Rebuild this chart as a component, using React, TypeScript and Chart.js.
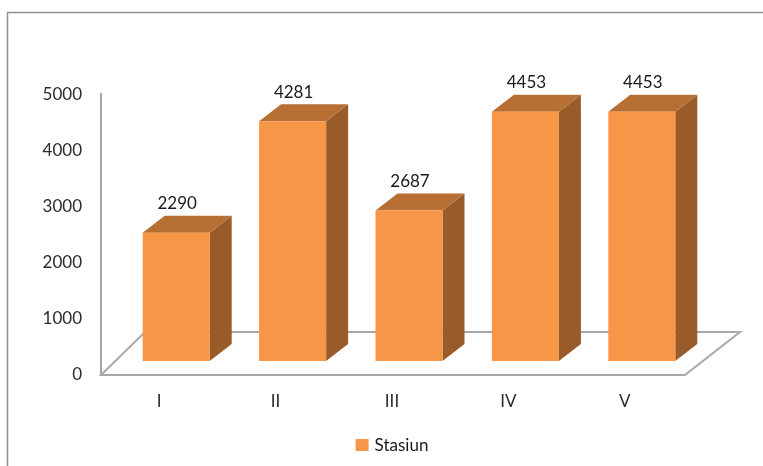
import React, { useEffect, useRef } from "react";
import { Chart, registerables } from "chart.js";

Chart.register(...registerables);

const categories = ["I", "II", "III", "IV", "V"];
const values = [2290, 4281, 2687, 4453, 4453];
const yTicks = [0, 1000, 2000, 3000, 4000, 5000];
const seriesName = "Stasiun";

const FONT = "17px Lato";
const FRONT = "#F79646";
const TOP = "#B86F33";
const SIDE = "#9A5B2A";

const threeD = {
  id: "threeD",
  afterDraw(chart: any) {
    const ctx = chart.ctx;
    const xs = chart.scales.x;
    const ys = chart.scales.y;
    const area = chart.chartArea;
    ctx.save();

    // outer border
    ctx.strokeStyle = "#8f8f8f";
    ctx.lineWidth = 1.5;
    ctx.beginPath();
    ctx.moveTo(7.5, chart.height + 5);
    ctx.lineTo(7.5, 12.5);
    ctx.lineTo(chart.width + 5, 12.5);
    ctx.stroke();

    const y0 = ys.getPixelForValue(0);
    const fdx = 44, fdy = -43;
    // floor
    ctx.fillStyle = "#ffffff";
    ctx.strokeStyle = "#a8a8a8";
    ctx.lineWidth = 2;
    ctx.beginPath();
    ctx.moveTo(area.left, y0);
    ctx.lineTo(area.right + 2, y0);
    ctx.lineTo(area.right + 2 + fdx + 11, y0 + fdy);
    ctx.lineTo(area.left + fdx, y0 + fdy);
    ctx.closePath();
    ctx.fill();
    ctx.stroke();

    // vertical axis
    ctx.beginPath();
    ctx.moveTo(area.left, ys.getPixelForValue(5000) - 2);
    ctx.lineTo(area.left, y0);
    ctx.stroke();

    // y tick labels
    ctx.font = FONT;
    ctx.fillStyle = "#2b2b2b";
    ctx.textAlign = "right";
    ctx.textBaseline = "middle";
    yTicks.forEach((t) => {
      ctx.fillText(String(t), area.left - 19, ys.getPixelForValue(t));
    });

    // x labels
    ctx.textAlign = "center";
    categories.forEach((c, i) => {
      ctx.fillText(c, xs.getPixelForValue(i), y0 + 27);
    });

    // bars
    const bdx = 22, bdy = -17;
    const half = 33.5;
    values.forEach((v, i) => {
      const cx = xs.getPixelForValue(i) + 17;
      const l = cx - half, r = cx + half;
      const base = y0 - 14;
      const top = ys.getPixelForValue(v) - 14;
      // side
      ctx.fillStyle = SIDE;
      ctx.beginPath();
      ctx.moveTo(r, top);
      ctx.lineTo(r + bdx, top + bdy);
      ctx.lineTo(r + bdx, base + bdy);
      ctx.lineTo(r, base);
      ctx.closePath();
      ctx.fill();
      // top
      ctx.fillStyle = TOP;
      ctx.beginPath();
      ctx.moveTo(l, top);
      ctx.lineTo(l + bdx, top + bdy);
      ctx.lineTo(r + bdx, top + bdy);
      ctx.lineTo(r, top);
      ctx.closePath();
      ctx.fill();
      // front
      ctx.fillStyle = FRONT;
      ctx.fillRect(l, top, r - l, base - top);
      // label
      ctx.fillStyle = "#1a1a1a";
      ctx.textAlign = "center";
      ctx.fillText(String(v), cx + 1, top - 29);
    });

    // legend
    const lx = (area.left + area.right) / 2;
    ctx.font = FONT;
    const tw = ctx.measureText(seriesName).width;
    const total = 13 + 6 + tw;
    const sx = lx - total / 2;
    ctx.fillStyle = FRONT;
    ctx.fillRect(sx, 439, 13, 12);
    ctx.fillStyle = "#1a1a1a";
    ctx.textAlign = "left";
    ctx.fillText(seriesName, sx + 19, 445.5);

    ctx.restore();
  },
};

export default function App() {
  const ref = useRef<HTMLCanvasElement>(null);
  useEffect(() => {
    document.body.style.margin = "0";
    const chart = new Chart(ref.current!, {
      type: "bar",
      data: {
        labels: categories,
        datasets: [
          {
            label: seriesName,
            data: values,
            backgroundColor: "rgba(0,0,0,0)",
            borderWidth: 0,
          },
        ],
      },
      options: {
        animation: false,
        responsive: false,
        layout: { padding: { left: 101, right: 80, top: 95, bottom: 91 } },
        plugins: { legend: { display: false }, tooltip: { enabled: false } },
        scales: {
          x: { display: false, offset: true },
          y: { display: false, min: 0, max: 5000 },
        },
      },
      plugins: [threeD],
    });
    return () => chart.destroy();
  }, []);
  return (
    <div style={{ width: 763, height: 466, background: "#fff" }}>
      <canvas ref={ref} width={763} height={466} style={{ display: "block" }} />
    </div>
  );
}
